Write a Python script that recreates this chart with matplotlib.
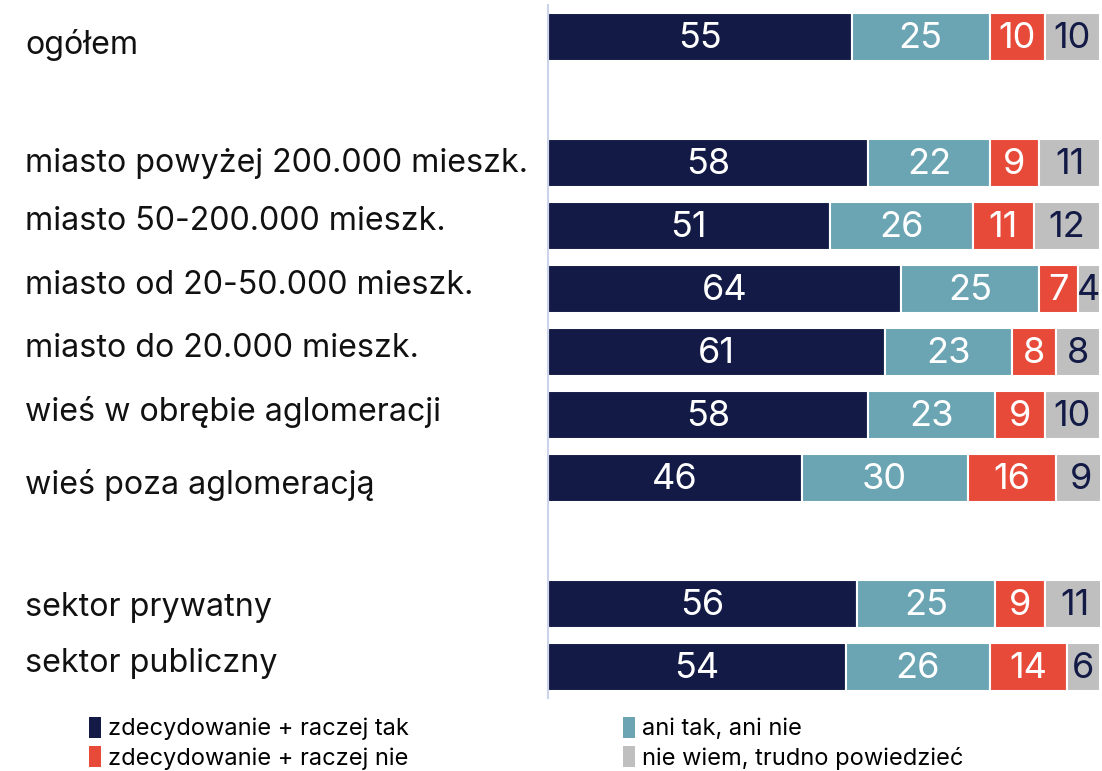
import matplotlib.pyplot as plt
from matplotlib.patches import Patch
from matplotlib.transforms import blended_transform_factory

plt.rcParams['font.family'] = ['Inter', 'DejaVu Sans']

# rows of the chart; None marks an empty spacer row
categories = [
    "ogółem",
    None,
    "miasto powyżej 200.000 mieszk.",
    "miasto 50-200.000 mieszk.",
    "miasto od 20-50.000 mieszk.",
    "miasto do 20.000 mieszk.",
    "wieś w obrębie aglomeracji",
    "wieś poza aglomeracją",
    None,
    "sektor prywatny",
    "sektor publiczny",
]

tak = [55, None, 58, 51, 64, 61, 58, 46, None, 56, 54]
ani = [25, None, 22, 26, 25, 23, 23, 30, None, 25, 26]
nie = [10, None, 9, 11, 7, 8, 9, 16, None, 9, 14]
nie_wiem = [10, None, 11, 12, 4, 8, 10, 9, None, 11, 6]

series_names = [
    "zdecydowanie + raczej tak",
    "ani tak, ani nie",
    "zdecydowanie + raczej nie",
    "nie wiem, trudno powiedzieć",
]
colors = ["#121a45", "#6ba5b4", "#e84a3a", "#bfbfbf"]
text_colors = ["white", "white", "white", "#121a45"]

# small vertical nudges of the row labels (in row units)
label_shift = [0.13, 0, 0, -0.08, -0.06, -0.06, -0.05, 0.11, 0, 0.05, -0.05]

fig = plt.figure(figsize=(11.02, 7.71), dpi=100)
ax = fig.add_axes([548 / 1102, 1 - 698 / 771, 552 / 1102, 693 / 771])

series = [tak, ani, nie, nie_wiem]
for i, cat in enumerate(categories):
    if cat is None:
        continue
    left = 0
    for values, color, tcol in zip(series, colors, text_colors):
        v = values[i]
        ax.barh(i, v, left=left, height=0.75, color=color,
                edgecolor="white", linewidth=1.5)
        ax.text(left + v / 2, i + 0.02, str(v), ha="center", va="center",
                fontsize=26, color=tcol)
        left += v

label_tr = blended_transform_factory(fig.transFigure, ax.transData)
for i, cat in enumerate(categories):
    if cat is None:
        continue
    ax.text(25 / 1102, i + label_shift[i], cat, transform=label_tr,
            ha="left", va="center", fontsize=23.2, color="#111111")

ax.set_xlim(0, 100)
ax.set_ylim(10.49, -0.508)
ax.set_xticks([])
ax.set_yticks([])
for side in ["top", "right", "bottom"]:
    ax.spines[side].set_visible(False)
ax.spines["left"].set_color("#ccd3ea")
ax.spines["left"].set_linewidth(1.5)

# legend fills column by column: left column tak / nie, right column ani / nie wiem
order = [0, 2, 1, 3]
handles = [Patch(facecolor=colors[k], edgecolor="none") for k in order]
fig.legend(handles, [series_names[k] for k in order], loc="lower left", ncol=2,
           bbox_to_anchor=(68 / 1102, -0.026), frameon=False,
           fontsize=17, handlelength=0.5, handleheight=1.0,
           handletextpad=0.3, columnspacing=9.05, labelspacing=0.25)

fig.savefig("out.png", dpi=100)
